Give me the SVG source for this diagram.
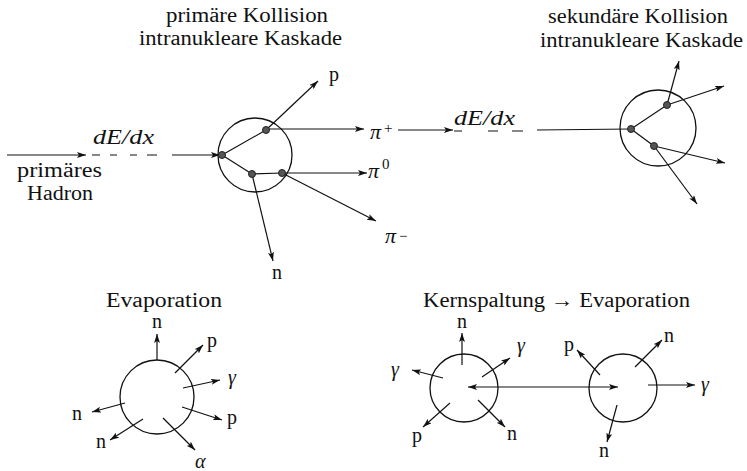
<svg xmlns="http://www.w3.org/2000/svg" width="747" height="471" viewBox="0 0 747 471">
<style>
text{font-family:"Liberation Serif","DejaVu Serif",serif;fill:#111}
.t{font-size:20px}
.l{font-size:20px;text-anchor:middle}
.ls{font-size:20px}
.m{font-style:italic;font-size:20px}
.pi{font-style:italic;font-size:22px}
.sup{font-size:15px;font-style:normal}
.c{fill:none;stroke:#111;stroke-width:1.3}
.a{fill:none;stroke:#111;stroke-width:1.2;marker-end:url(#ah)}
.s{fill:none;stroke:#111;stroke-width:1.2}
.d{fill:#555;stroke:#222;stroke-width:1}
</style>
<defs>
<marker id="ah" markerUnits="userSpaceOnUse" markerWidth="9" markerHeight="6" refX="9" refY="3" orient="auto">
<path d="M0,0 L9,3 L0,6 L2,3 z" fill="#111"/>
</marker>
<marker id="ahs" markerUnits="userSpaceOnUse" markerWidth="9" markerHeight="6" refX="0" refY="3" orient="auto">
<path d="M9,0 L0,3 L9,6 L7,3 z" fill="#111"/>
</marker>
</defs>

<g id="titles">
<text class="t" x="166" y="22" textLength="162" lengthAdjust="spacingAndGlyphs">primäre Kollision</text>
<text class="t" x="139" y="45" textLength="203" lengthAdjust="spacingAndGlyphs">intranukleare Kaskade</text>
<text class="t" x="548" y="23" textLength="180" lengthAdjust="spacingAndGlyphs">sekundäre Kollision</text>
<text class="t" x="540" y="47" textLength="203" lengthAdjust="spacingAndGlyphs">intranukleare Kaskade</text>
<text class="t" x="17" y="177" textLength="85" lengthAdjust="spacingAndGlyphs">primäres</text>
<text class="t" x="27" y="200" textLength="66" lengthAdjust="spacingAndGlyphs">Hadron</text>
<text class="t" x="106" y="307" textLength="116" lengthAdjust="spacingAndGlyphs">Evaporation</text>
<text class="t" x="423" y="307" textLength="267" lengthAdjust="spacingAndGlyphs">Kernspaltung → Evaporation</text>
<text class="m" x="93" y="144" textLength="61" lengthAdjust="spacingAndGlyphs">dE/dx</text>
<text class="m" x="454" y="125" textLength="61" lengthAdjust="spacingAndGlyphs">dE/dx</text>
</g>

<g id="connectors">
<line class="a" x1="7" y1="155" x2="86" y2="155"/>
<path class="s" d="M92,155 H100 M110,155 H117 M130,155 H137 M147,155 H157"/>
<line class="a" x1="172" y1="155" x2="220" y2="155"/>
<line class="s" x1="222" y1="155" x2="266" y2="130"/>
<line class="s" x1="222" y1="155" x2="252" y2="174"/>
<line class="s" x1="252" y1="174" x2="282" y2="173"/>
<line class="a" x1="266" y1="130" x2="318" y2="81"/>
<line class="a" x1="266" y1="129" x2="364" y2="129"/>
<line class="a" x1="282" y1="173" x2="367" y2="173"/>
<line class="a" x1="282" y1="173" x2="376" y2="221"/>
<line class="a" x1="252" y1="174" x2="273" y2="261"/>
<line class="a" x1="398" y1="130" x2="453" y2="130"/>
<path class="s" d="M454,131 H462 M488,131 H498 M512,131 H523"/>
<line class="s" x1="537" y1="130" x2="631" y2="129"/>
<line class="s" x1="631" y1="129" x2="667" y2="105"/>
<line class="s" x1="631" y1="129" x2="654" y2="146"/>
<line class="a" x1="667" y1="105" x2="679" y2="61"/>
<line class="a" x1="667" y1="105" x2="724" y2="86"/>
<line class="a" x1="654" y1="146" x2="725" y2="163"/>
<line class="a" x1="654" y1="146" x2="697" y2="204"/>
<line class="a" x1="157" y1="360" x2="157" y2="334"/>
<line class="a" x1="175" y1="373" x2="203" y2="345"/>
<line class="a" x1="183" y1="388" x2="220" y2="380"/>
<line class="a" x1="182" y1="407" x2="222" y2="420"/>
<line class="a" x1="163" y1="418" x2="195" y2="450"/>
<line class="a" x1="143" y1="419" x2="110" y2="440"/>
<line class="a" x1="125" y1="403" x2="92" y2="412"/>
<line class="s" x1="468" y1="387" x2="618" y2="387" marker-start="url(#ahs)" marker-end="url(#ah)"/>
<line class="a" x1="462" y1="365" x2="462" y2="333"/>
<line class="a" x1="482" y1="377" x2="510" y2="358"/>
<line class="a" x1="443" y1="378" x2="412" y2="370"/>
<line class="a" x1="450" y1="403" x2="423" y2="427"/>
<line class="a" x1="478" y1="400" x2="505" y2="427"/>
<line class="a" x1="600" y1="375" x2="577" y2="350"/>
<line class="a" x1="635" y1="367" x2="662" y2="340"/>
<line class="a" x1="648" y1="385" x2="695" y2="385"/>
<line class="a" x1="617" y1="405" x2="607" y2="442"/>
</g>

<g id="primary-collision">
<circle class="c" cx="255" cy="155" r="37"/>
<circle class="d" cx="222" cy="155" r="3.5"/>
<circle class="d" cx="266" cy="130" r="3.5"/>
<circle class="d" cx="252" cy="174" r="3.5"/>
<circle class="d" cx="282" cy="173" r="3.5"/>
<text class="l" x="334" y="81">p</text>
<text class="l" x="277" y="279">n</text>
<text class="pi" x="370" y="139">π<tspan class="sup" x="384" y="133">+</tspan></text>
<text class="pi" x="368" y="178">π<tspan class="sup" x="382" y="169">0</tspan></text>
<text class="pi" x="385" y="243">π<tspan class="sup" x="399" y="241">−</tspan></text>
</g>

<g id="secondary-collision">
<circle class="c" cx="658" cy="128" r="38"/>
<circle class="d" cx="631" cy="129" r="3.5"/>
<circle class="d" cx="667" cy="105" r="3.5"/>
<circle class="d" cx="654" cy="146" r="3.5"/>
</g>

<g id="evaporation">
<circle class="c" cx="157" cy="397" r="37"/>
<text class="l" x="157" y="328">n</text>
<text class="ls" x="207" y="347">p</text>
<text class="m" x="228" y="384">γ</text>
<text class="ls" x="227" y="424">p</text>
<text class="m" x="195" y="468">α</text>
<text class="ls" x="96" y="448">n</text>
<text class="ls" x="72" y="420">n</text>
</g>

<g id="fission-left">
<circle class="c" cx="464" cy="388" r="34"/>
<text class="l" x="462" y="328">n</text>
<text class="m" x="517" y="352">γ</text>
<text class="m" x="391" y="376">γ</text>
<text class="ls" x="412" y="442">p</text>
<text class="ls" x="507" y="440">n</text>
</g>

<g id="fission-right">
<circle class="c" cx="623" cy="388" r="34"/>
<text class="ls" x="564" y="351">p</text>
<text class="ls" x="664" y="342">n</text>
<text class="m" x="701" y="391">γ</text>
<text class="ls" x="599" y="457">n</text>
</g>
</svg>
